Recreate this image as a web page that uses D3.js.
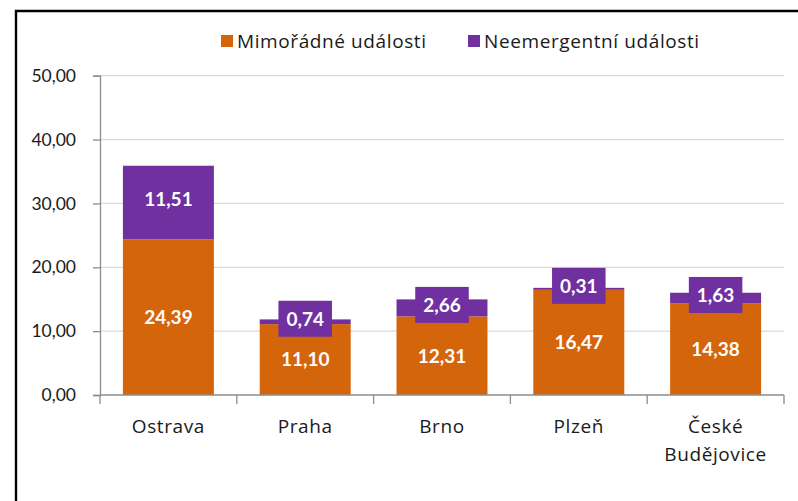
<!DOCTYPE html>
<html>
<head>
<meta charset="utf-8">
<script src="https://cdn.jsdelivr.net/npm/d3@7"></script>
<style>
  html, body { margin: 0; padding: 0; background: #fff; }
  svg { display: block; }
  text { font-family: Lato, "Open Sans", sans-serif; }
  .lbl { font-family: "Open Sans", Lato, sans-serif; letter-spacing: 0.6px; }
</style>
</head>
<body>
<svg id="chart" width="798" height="501"></svg>
<script>
// Data
const categories = ["Ostrava", "Praha", "Brno", "Plzeň", "České Budějovice"];
const mimoradne = [24.39, 11.10, 12.31, 16.47, 14.38];
const neemergentni = [11.51, 0.74, 2.66, 0.31, 1.63];
const seriesNames = ["Mimořádné události", "Neemergentní události"];
const yTicks = [0, 10, 20, 30, 40, 50];

const colors = ["#D5650B", "#7030A0"];
const fmt = v => v.toFixed(2).replace(".", ",");

const svg = d3.select("#chart");
const W = 798, H = 501;
const plot = { left: 100, right: 784, top: 75.7, bottom: 395 };

// Outer frame (left and top edges)
svg.append("path")
  .attr("d", `M16,${H} L16,11 L${W},11`)
  .attr("fill", "none").attr("stroke", "#000").attr("stroke-width", 2.4);

const x = d3.scaleBand().domain(categories)
  .range([plot.left, plot.right]).paddingInner(0.335).paddingOuter(0.1675);
const y = d3.scaleLinear().domain([0, 50]).range([plot.bottom, plot.top]);

// Gridlines
svg.append("g").selectAll("line").data(yTicks.filter(t => t > 0)).join("line")
  .attr("x1", plot.left).attr("x2", plot.right)
  .attr("y1", d => y(d)).attr("y2", d => y(d))
  .attr("stroke", "#D9D9D9").attr("stroke-width", 1.3);

// Y axis
const yAxis = svg.append("g").attr("transform", `translate(${plot.left},0)`)
  .call(d3.axisLeft(y).tickValues(yTicks).tickFormat(fmt).tickSize(7).tickPadding(17));
yAxis.select(".domain").attr("stroke", "#8C8C8C").attr("stroke-width", 1.3);
yAxis.selectAll(".tick line").attr("stroke", "#8C8C8C").attr("stroke-width", 1.3);
yAxis.selectAll(".tick text").attr("font-size", 17.5).attr("fill", "#1a1a1a")
  .style("font-family", "Lato, sans-serif");

// Stacked bars
const stackData = categories.map((c, i) => ({ cat: c, m: mimoradne[i], n: neemergentni[i] }));
const stack = d3.stack().keys(["m", "n"])(stackData);

const layers = svg.append("g").selectAll("g").data(stack).join("g")
  .attr("fill", (d, i) => colors[i]);
layers.selectAll("rect").data(d => d).join("rect")
  .attr("x", d => x(d.data.cat))
  .attr("width", x.bandwidth())
  .attr("y", d => y(d[1]))
  .attr("height", d => y(d[0]) - y(d[1]));

// X axis (category separators below the bars)
const xAxisG = svg.append("g").attr("transform", `translate(0,${plot.bottom})`);
xAxisG.append("line").attr("x1", plot.left).attr("x2", plot.right)
  .attr("y1", 0).attr("y2", 0).attr("stroke", "#8C8C8C").attr("stroke-width", 1.3);
const step = x.step();
const sepX = d3.range(categories.length + 1).map(i => plot.left + i * step);
xAxisG.selectAll("line.sep").data(sepX).join("line").attr("class", "sep")
  .attr("x1", d => d).attr("x2", d => d).attr("y1", 0).attr("y2", 9)
  .attr("stroke", "#8C8C8C").attr("stroke-width", 1.3);

// Category labels (wrapped onto two lines where needed)
const catLabels = svg.append("g");
categories.forEach(c => {
  const words = c.split(" ");
  const t = catLabels.append("text").attr("class", "lbl")
    .attr("x", x(c) + x.bandwidth() / 2).attr("y", 433)
    .attr("text-anchor", "middle").attr("font-size", 19).attr("fill", "#1a1a1a");
  words.forEach((w, j) => {
    t.append("tspan").attr("x", x(c) + x.bandwidth() / 2)
      .attr("dy", j === 0 ? 0 : 28).text(w);
  });
});

// Value labels: orange segment
const labels = svg.append("g");
stackData.forEach(d => {
  const cx = x(d.cat) + x.bandwidth() / 2;
  labels.append("text")
    .attr("x", cx).attr("y", y(d.m / 2))
    .attr("dy", "0.36em").attr("text-anchor", "middle")
    .attr("font-size", 19).attr("font-weight", "bold").attr("fill", "#fff")
    .text(fmt(d.m));
});

// Value labels: purple segment, on a filled label box
stackData.forEach(d => {
  const cx = x(d.cat) + x.bandwidth() / 2;
  const cy = y(d.m + d.n / 2) - 3;
  const g = labels.append("g");
  const txt = g.append("text")
    .attr("x", cx).attr("y", cy)
    .attr("dy", "0.36em").attr("text-anchor", "middle")
    .attr("font-size", 19).attr("font-weight", "bold").attr("fill", "#fff")
    .text(fmt(d.n));
  const bb = txt.node().getBBox();
  g.insert("rect", "text")
    .attr("x", cx - bb.width / 2 - 8).attr("width", bb.width + 16)
    .attr("y", cy - 18).attr("height", 36)
    .attr("fill", colors[1]);
});

// Legend
const legendItems = [
  { name: seriesNames[0], color: colors[0], x: 221 },
  { name: seriesNames[1], color: colors[1], x: 468 }
];
const legend = svg.append("g");
legendItems.forEach(it => {
  legend.append("rect").attr("x", it.x).attr("y", 35).attr("width", 12).attr("height", 12)
    .attr("fill", it.color);
  legend.append("text").attr("class", "lbl").attr("x", it.x + 16).attr("y", 41).attr("dy", "0.35em")
    .attr("font-size", 19).attr("fill", "#1a1a1a").text(it.name);
});
</script>
</body>
</html>
